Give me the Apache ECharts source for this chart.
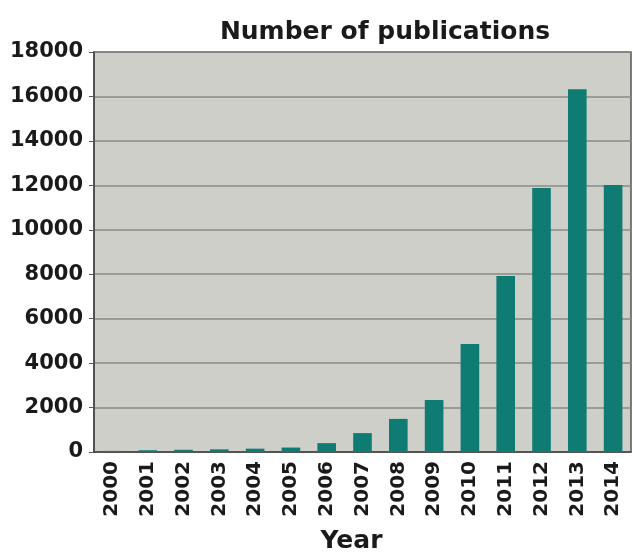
<!DOCTYPE html>
<html><head><meta charset="utf-8">
<script src="https://cdn.jsdelivr.net/npm/echarts@6/dist/echarts.min.js"></script>
<style>html,body{margin:0;padding:0;background:#fff}#c{width:633px;height:554px}</style>
</head><body><div id="c"></div>
<script>
const years = ['2000','2001','2002','2003','2004','2005','2006','2007','2008','2009','2010','2011','2012','2013','2014'];
const publications = [50, 80, 100, 120, 150, 200, 400, 850, 1490, 2340, 4860, 7920, 11880, 16320, 12020];
const yTicks = [0, 2000, 4000, 6000, 8000, 10000, 12000, 14000, 16000, 18000];

const F = 'DejaVu Sans';
const chart = echarts.init(document.getElementById('c'));
chart.setOption({
  backgroundColor: '#ffffff',
  title: {
    text: 'Number of publications', left: 380, top: 15, textAlign: 'center',
    textStyle: {fontFamily: F, fontWeight: 'bold', fontSize: 25, color: '#1a1a1a'}
  },
  grid: {left: 94, right: 2, top: 52, bottom: 102, outerBoundsMode: 'none', containLabel: false,
    show: true, backgroundColor: '#cfcfca', borderColor: '#555', borderWidth: 1.5},
  xAxis: {
    type: 'category', data: years,
    name: 'Year', nameLocation: 'middle', nameGap: 77,
    nameTextStyle: {fontFamily: F, fontWeight: 'bold', fontSize: 25, color: '#1a1a1a', padding: [0,0,0,-22]},
    axisLine: {lineStyle: {color: '#444', width: 1.5}},
    axisTick: {show: false},
    axisLabel: {rotate: 90, margin: 9, fontFamily: F, fontWeight: 'bold', fontSize: 20, color: '#1a1a1a'}
  },
  yAxis: {
    type: 'value', min: 0, max: 18000, interval: 2000,
    axisLine: {show: true, lineStyle: {color: '#444', width: 1.5}},
    axisTick: {show: true, length: 5, lineStyle: {color: '#555'}},
    axisLabel: {margin: 11, fontFamily: F, fontWeight: 'bold', fontSize: 21, color: '#1a1a1a',
      formatter: v => yTicks.includes(v) ? String(v) : ''},
    splitLine: {lineStyle: {color: '#8a8a86', width: 1.5}}
  },
  series: [{
    type: 'bar', data: publications, barWidth: '52%',
    itemStyle: {color: '#0f7c74'}
  }]
});
</script></body></html>
